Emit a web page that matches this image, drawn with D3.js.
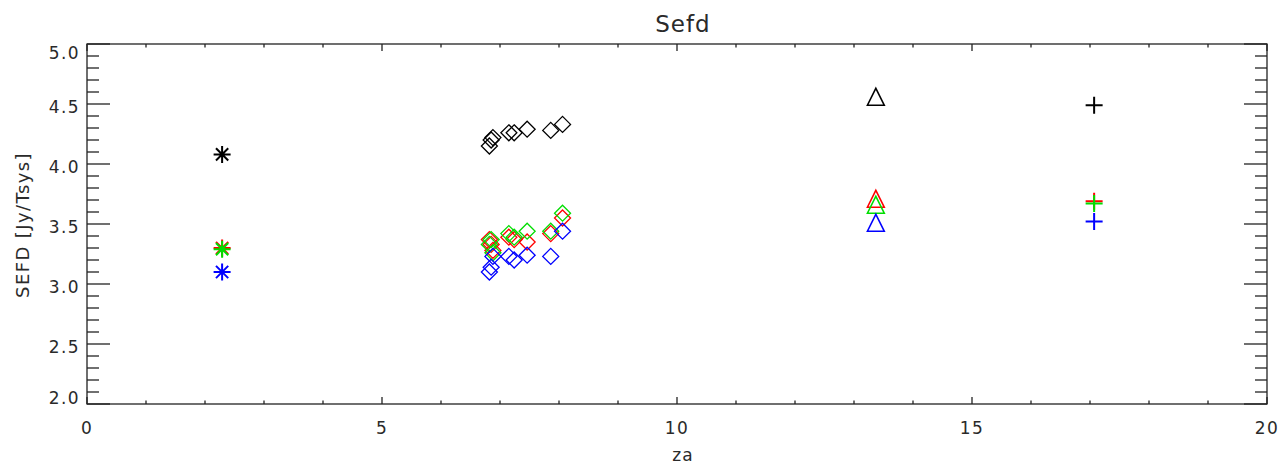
<!DOCTYPE html>
<html>
<head>
<meta charset="utf-8">
<script src="https://cdn.jsdelivr.net/npm/d3@7"></script>
<style>
  html, body { margin: 0; padding: 0; background: #fff; }
  svg { display: block; }
  text { font-family: "DejaVu Sans", sans-serif; fill: #2a2a2a; }
</style>
</head>
<body>
<svg id="chart" width="1283" height="466"></svg>
<script>
// ---- data ----
const seriesColors = ["#000000", "#ff0000", "#00dd00", "#0000ff"]; // black, red, green, blue
const xTicks = [0, 5, 10, 15, 20];
const yTicks = [2.0, 2.5, 3.0, 3.5, 4.0, 4.5, 5.0];

// asterisks (one pointing, 4 channels)
const astZa = [2.29];
const astBlack = [4.08];
const astRed = [3.30];
const astGreen = [3.29];
const astBlue = [3.10];

// diamonds (8 pointings)
const diaZa    = [6.82, 6.85, 6.88, 7.15, 7.24, 7.46, 7.86, 8.06];
const diaBlack = [4.15, 4.20, 4.22, 4.26, 4.26, 4.29, 4.28, 4.33];
const diaRed   = [3.37, 3.33, 3.28, 3.39, 3.37, 3.35, 3.42, 3.55];
const diaGreen = [3.33, 3.37, 3.26, 3.42, 3.39, 3.44, 3.44, 3.59];
const diaBlue  = [3.10, 3.14, 3.23, 3.23, 3.20, 3.24, 3.23, 3.44];

// triangles
const triZa = [13.37];
const triBlack = [4.56];
const triRed = [3.71];
const triGreen = [3.66];
const triBlue = [3.51];

// plus signs
const plusZa = [17.07];
const plusBlack = [4.49];
const plusRed = [3.69];
const plusGreen = [3.67];
const plusBlue = [3.52];

// ---- layout ----
const L = 87, R = 1267, T = 44, B = 404;
const svg = d3.select("#chart");
const x = d3.scaleLinear().domain([0, 20]).range([L, R]);
const y = d3.scaleLinear().domain([2, 5]).range([B, T]);

const axisColor = "#222";
const g = svg.append("g");

// frame
g.append("rect").attr("x", L).attr("y", T).attr("width", R - L).attr("height", B - T)
  .attr("fill", "none").attr("stroke", axisColor).attr("stroke-width", 1.3);

// x ticks (bottom & top)
const xMinor = d3.range(0, 20.001, 1);
xMinor.forEach(v => {
  const major = xTicks.includes(v);
  const len = major ? 7 : 3.5;
  const px = x(v);
  g.append("line").attr("x1", px).attr("x2", px).attr("y1", B).attr("y2", B - len)
    .attr("stroke", axisColor).attr("stroke-width", 1.3);
  g.append("line").attr("x1", px).attr("x2", px).attr("y1", T).attr("y2", T + len)
    .attr("stroke", axisColor).attr("stroke-width", 1.3);
});
// y ticks (left & right)
const yMinor = d3.range(20, 50.001, 1).map(d => d / 10);
yMinor.forEach(v => {
  const major = Math.abs(v * 2 - Math.round(v * 2)) < 1e-6;
  const len = major ? 23 : 12;
  const py = y(v);
  g.append("line").attr("x1", L).attr("x2", L + len).attr("y1", py).attr("y2", py)
    .attr("stroke", axisColor).attr("stroke-width", 1.3);
  g.append("line").attr("x1", R).attr("x2", R - len).attr("y1", py).attr("y2", py)
    .attr("stroke", axisColor).attr("stroke-width", 1.3);
});

// tick labels
const labelFont = 17;
xTicks.forEach(v => {
  g.append("text").attr("x", x(v)).attr("y", 434).attr("text-anchor", "middle")
    .attr("font-size", labelFont).attr("letter-spacing", 1.4).text(String(v));
});
yTicks.forEach((v, i) => {
  let off = 2.5;
  if (i === 0) off = -6;
  if (i === yTicks.length - 1) off = 8.5;
  g.append("text").attr("x", 80).attr("y", y(v) + off + 6).attr("text-anchor", "end")
    .attr("font-size", labelFont).attr("letter-spacing", 1.4).text(v.toFixed(1));
});

// titles
svg.append("text").attr("x", 683).attr("y", 32).attr("text-anchor", "middle")
  .attr("font-size", 23).attr("letter-spacing", 1).text("Sefd");
svg.append("text").attr("x", 683).attr("y", 461).attr("text-anchor", "middle")
  .attr("font-size", 17).attr("letter-spacing", 1).text("za");
svg.append("text").attr("transform", "translate(29,225) rotate(-90)").attr("text-anchor", "middle")
  .attr("font-size", 18).attr("letter-spacing", 1.4).text("SEFD [Jy/Tsys]");

// ---- symbols ----
const S = 8.5;
function asteriskPath(cx, cy) {
  const p = d3.path();
  const d = S * 0.72;
  p.moveTo(cx - S, cy); p.lineTo(cx + S, cy);
  p.moveTo(cx, cy - S); p.lineTo(cx, cy + S);
  p.moveTo(cx - d, cy - d); p.lineTo(cx + d, cy + d);
  p.moveTo(cx - d, cy + d); p.lineTo(cx + d, cy - d);
  return p.toString();
}
function diamondPath(cx, cy) {
  const p = d3.path();
  const s = 8;
  p.moveTo(cx, cy - s); p.lineTo(cx + s, cy); p.lineTo(cx, cy + s); p.lineTo(cx - s, cy); p.closePath();
  return p.toString();
}
function trianglePath(cx, cy) {
  const p = d3.path();
  p.moveTo(cx - S, cy + S); p.lineTo(cx, cy - S); p.lineTo(cx + S, cy + S); p.closePath();
  return p.toString();
}
function plusPath(cx, cy) {
  const p = d3.path();
  p.moveTo(cx - S, cy); p.lineTo(cx + S, cy);
  p.moveTo(cx, cy - S); p.lineTo(cx, cy + S);
  return p.toString();
}

const marks = svg.append("g").attr("fill", "none");
function draw(zaArr, valArr, color, pathFn, sw) {
  marks.append("g").selectAll("path").data(valArr).join("path")
    .attr("d", (v, i) => pathFn(x(zaArr[i]), y(v)))
    .attr("stroke", color).attr("stroke-width", sw).attr("fill", "none");
}
const astSets = [astBlack, astRed, astGreen, astBlue];
const diaSets = [diaBlack, diaRed, diaGreen, diaBlue];
const triSets = [triBlack, triRed, triGreen, triBlue];
const plusSets = [plusBlack, plusRed, plusGreen, plusBlue];
seriesColors.forEach((c, k) => {
  draw(astZa, astSets[k], c, asteriskPath, 2);
  draw(diaZa, diaSets[k], c, diamondPath, 1.3);
  draw(triZa, triSets[k], c, trianglePath, 1.5);
  draw(plusZa, plusSets[k], c, plusPath, 2);
});
</script>
</body>
</html>
